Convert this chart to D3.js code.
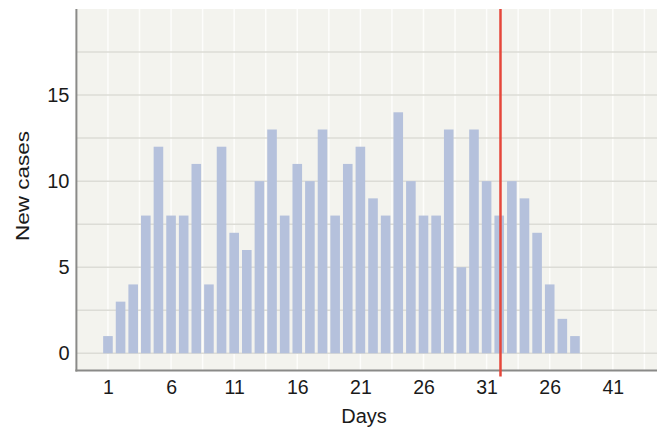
<!DOCTYPE html>
<html><head><meta charset="utf-8">
<script src="https://cdn.jsdelivr.net/npm/d3@7"></script>
<style>body{margin:0;background:#fff;} svg{display:block;font-family:"Liberation Sans",Arial,sans-serif;}</style>
</head><body>
<svg id="c" width="661" height="428"></svg>
<script>
const days = d3.range(1, 39);
const newCases = [1,3,4,8,12,8,8,11,4,12,7,6,10,13,8,11,10,13,8,11,12,9,8,14,10,8,8,13,5,13,10,8,10,9,7,4,2,1];
const xTickValues = [1,6,11,16,21,26,31,36,41];
const xTickLabels = ["1","6","11","16","21","26","31","26","41"];
const yTickValues = [0,5,10,15];
const markerDay = 32.1;

const svg = d3.select("#c");
const x = d3.scaleLinear().domain([-1.5, 44.5]).range([76.4, 657]);
const y = d3.scaleLinear().domain([-1, 20]).range([370.5, 9]);

// background
svg.append("rect").attr("x", x(-1.5)).attr("y", y(20)).attr("width", x(44.5)-x(-1.5)).attr("height", y(-1)-y(20)).attr("fill", "#f3f3ee");

// vertical white grid
const vgrid = d3.range(-1.5, 44.6, 2.5);
svg.append("g").selectAll("line").data(vgrid).join("line")
  .attr("x1", d=>x(d)).attr("x2", d=>x(d)).attr("y1", y(20)).attr("y2", y(-1))
  .attr("stroke", "#fdfdfb").attr("stroke-width", 1.5);
// horizontal grid
const hgrid = d3.range(0, 17.6, 2.5);
svg.append("g").selectAll("line").data(hgrid).join("line")
  .attr("x1", x(-1.5)).attr("x2", x(44.5)).attr("y1", d=>y(d)).attr("y2", d=>y(d))
  .attr("stroke", "#dcdcd6").attr("stroke-width", 1.5);

// bars
const bw = 9.6;
svg.append("g").selectAll("rect").data(days).join("rect")
  .attr("x", (d)=>x(d)-bw/2).attr("width", bw)
  .attr("y", (d,i)=>y(newCases[i])).attr("height", (d,i)=>y(0)-y(newCases[i]))
  .attr("fill", "#b5c1dc");

// axes lines
svg.append("line").attr("x1", x(-1.5)).attr("x2", x(-1.5)).attr("y1", y(20)).attr("y2", y(-1)+1)
  .attr("stroke", "#8a8a88").attr("stroke-width", 2);
svg.append("line").attr("x1", x(-1.5)-1).attr("x2", x(44.5)).attr("y1", y(-1)).attr("y2", y(-1))
  .attr("stroke", "#8a8a88").attr("stroke-width", 2);

// red line
svg.append("line").attr("x1", x(markerDay)).attr("x2", x(markerDay)).attr("y1", y(20)).attr("y2", y(-1)+6)
  .attr("stroke", "#e5473b").attr("stroke-width", 2.5);

// x axis
const xAxis = d3.axisBottom(x).tickValues(xTickValues).tickSize(0).tickPadding(0)
  .tickFormat((d,i)=>xTickLabels[i]);
const gx = svg.append("g").attr("transform", "translate(0,0)").call(xAxis);
gx.select(".domain").remove();
gx.selectAll("text").attr("font-size", 19.5).attr("fill", "#1a1a1a").attr("y", 393.5).attr("dy", null)
  .attr("font-family", "Liberation Sans, Arial, sans-serif");

// y axis
const yAxis = d3.axisLeft(y).tickValues(yTickValues).tickSize(0).tickPadding(0);
const gy = svg.append("g").attr("transform", "translate(69.5,0)").call(yAxis);
gy.select(".domain").remove();
gy.selectAll("text").attr("font-size", 20).attr("fill", "#1a1a1a").attr("dy", "0.33em")
  .attr("font-family", "Liberation Sans, Arial, sans-serif");

// titles
svg.append("text").attr("x", 364).attr("y", 423).attr("text-anchor", "middle")
  .attr("font-size", 20).attr("fill", "#1a1a1a").text("Days");
svg.append("text").attr("transform", "translate(28.5,186) rotate(-90)").attr("text-anchor", "middle")
  .attr("font-size", 19).attr("fill", "#1a1a1a")
  .attr("textLength", 110).attr("lengthAdjust", "spacingAndGlyphs").text("New cases");
</script>
</body></html>
